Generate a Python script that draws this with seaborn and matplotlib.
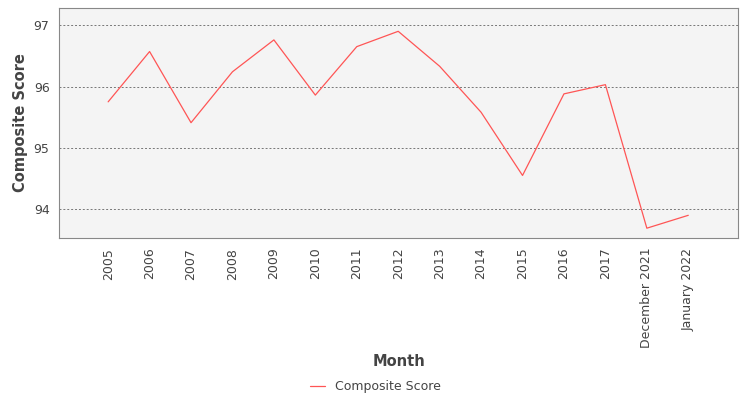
import pandas as pd
import seaborn as sns
from matplotlib import pyplot as plt

months = ['2005', '2006', '2007', '2008', '2009', '2010', '2011', '2012', '2013',
          '2014', '2015', '2016', '2017', 'December 2021', 'January 2022']
scores = [95.75, 96.57, 95.41, 96.24, 96.76, 95.86, 96.65, 96.90, 96.33,
          95.58, 94.55, 95.88, 96.03, 93.69, 93.90]

df = pd.DataFrame({'Month': months, 'Composite Score': scores})
df['pos'] = range(len(df))

sns.set_style('white')
plt.rcParams['font.family'] = ['DejaVu Sans']

fig = plt.figure(figsize=(7.5, 4), dpi=100)
ax = fig.add_axes([0.079, 0.405, 0.905, 0.575])
ax.set_facecolor('#f4f4f4')

sns.lineplot(data=df, x='pos', y='Composite Score', ax=ax, color='#ff5555',
             linewidth=0.9, legend=False)

ax.set_xlim(-1.18, 15.2)
ax.set_ylim(93.53, 97.28)
ax.set_xticks(df['pos'])
ax.set_xticklabels(months, rotation=90, fontsize=9, color='#444444')
ax.set_yticks([94, 95, 96, 97])
ax.tick_params(axis='y', labelsize=9, colors='#444444')
ax.yaxis.grid(True, linestyle=(0, (2, 2)), color='#777777', linewidth=0.7)
ax.xaxis.grid(False)
for s in ax.spines.values():
    s.set_color('#888888')
    s.set_linewidth(0.8)

ax.set_xlabel('Month', fontsize=10.5, color='#444444', fontweight='bold', labelpad=4)
ax.set_ylabel('Composite Score', fontsize=10.5, color='#444444', fontweight='bold')

fig.legend(ax.lines[:1], ['Composite Score'], loc='center', bbox_to_anchor=(0.5, 0.033),
           frameon=False, fontsize=9, handlelength=1.2, labelcolor='#444444')

fig.savefig('out.png', dpi=100)
